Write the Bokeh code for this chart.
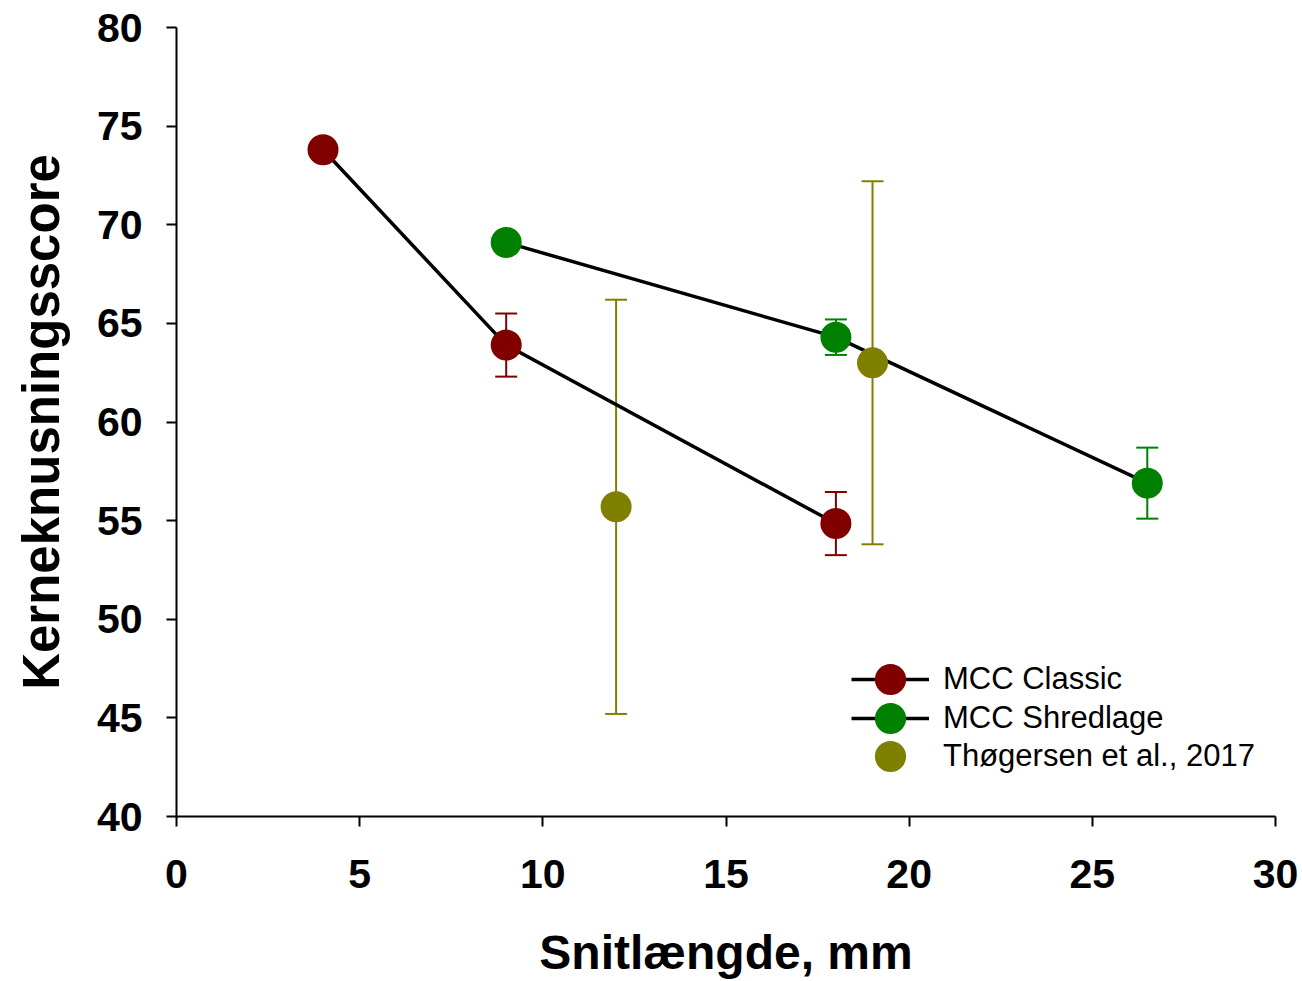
from bokeh.plotting import figure
from bokeh.models import (Range1d, FixedTicker, Whisker, TeeHead, ColumnDataSource,
                          Legend, LegendItem)
from bokeh.embed import file_html
from bokeh.resources import INLINE

# ---- data ----
classic_x = [4, 9, 18]
classic_y = [73.8, 63.9, 54.85]
classic_err_x = [9, 18]
classic_err_y = [63.9, 54.85]
classic_err = [1.6, 1.6]

shred_x = [9, 18, 26.5]
shred_y = [69.1, 64.3, 56.9]
shred_err_x = [18, 26.5]
shred_err_y = [64.3, 56.9]
shred_err = [0.9, 1.8]

thog_x = [12, 19]
thog_y = [55.7, 63.0]
thog_err = [10.5, 9.2]

series_labels = ["MCC Classic", "MCC Shredlage", "Thøgersen et al., 2017"]

x_ticks = [0, 5, 10, 15, 20, 25, 30]
y_ticks = [40, 45, 50, 55, 60, 65, 70, 75, 80]

C_RED = "#800000"
C_GREEN = "#008000"
C_OLIVE = "#808000"
FONT = "Liberation Sans"

W, H = 1300, 981
p = figure(width=W, height=H, output_backend="svg", toolbar_location=None,
           x_range=Range1d(0, 30), y_range=Range1d(40, 80),
           min_border_left=176, min_border_right=W - 1275, min_border_top=27,
           min_border_bottom=H - 817)
p.outline_line_color = None
p.grid.grid_line_color = None
p.background_fill_color = "white"

for ax in (p.xaxis[0], p.yaxis[0]):
    ax.axis_line_width = 2
    ax.axis_line_color = "black"
    ax.major_tick_line_width = 2
    ax.major_tick_out = 10
    ax.major_tick_in = 0
    ax.minor_tick_line_color = None
    ax.major_label_text_font = FONT
    ax.major_label_text_font_style = "bold"
    ax.major_label_text_font_size = "41px"
    ax.major_label_text_color = "black"
    ax.axis_label_text_font = FONT
    ax.axis_label_text_font_style = "bold"
    ax.axis_label_text_color = "black"

p.xaxis.ticker = FixedTicker(ticks=x_ticks)
p.yaxis.ticker = FixedTicker(ticks=y_ticks)
p.xaxis.axis_label = "Snitlængde, mm"
p.yaxis.axis_label = "Kerneknusningsscore"
p.xaxis.axis_label_text_font_size = "48px"
p.yaxis.axis_label_text_font_size = "51px"
p.xaxis.major_label_standoff = 33
p.xaxis.axis_label_standoff = 35
p.yaxis.major_label_standoff = 24
p.yaxis.axis_label_standoff = 24

# lines
l_classic = p.line(classic_x, classic_y, line_color="black", line_width=3.5)
l_shred = p.line(shred_x, shred_y, line_color="black", line_width=3.5)


def add_err(xs, ys, errs, color):
    src = ColumnDataSource(dict(x=xs, up=[y + e for y, e in zip(ys, errs)],
                                lo=[y - e for y, e in zip(ys, errs)]))
    w = Whisker(base="x", upper="up", lower="lo", source=src, dimension="height",
                line_color=color, line_width=2,
                upper_head=TeeHead(size=22, line_color=color, line_width=2),
                lower_head=TeeHead(size=22, line_color=color, line_width=2))
    p.add_layout(w)


add_err(classic_err_x, classic_err_y, classic_err, C_RED)
add_err(shred_err_x, shred_err_y, shred_err, C_GREEN)
add_err(thog_x, thog_y, thog_err, C_OLIVE)

s_classic = p.scatter(classic_x, classic_y, size=31, fill_color=C_RED, line_color=None)
s_shred = p.scatter(shred_x, shred_y, size=31, fill_color=C_GREEN, line_color=None)
s_thog = p.scatter(thog_x, thog_y, size=31, fill_color=C_OLIVE, line_color=None)

# one single-item legend per series, so the large legend markers can sit close together
legend_renderers = [[l_classic, s_classic], [l_shred, s_shred], [s_thog]]
legend_bottoms = [98, 59, 21]
for lab, rends, yb in zip(series_labels, legend_renderers, legend_bottoms):
    lg = Legend(items=[LegendItem(label=lab, renderers=rends)], location=(675, yb))
    lg.border_line_color = None
    lg.background_fill_alpha = 0
    lg.padding = 0
    lg.margin = 0
    lg.spacing = 0
    lg.glyph_width = 78
    lg.glyph_height = 78
    lg.label_height = 78
    lg.label_standoff = 14
    lg.label_text_font = FONT
    lg.label_text_font_size = "31px"
    lg.label_text_color = "black"
    p.add_layout(lg, "center")

open("out.html", "w").write(file_html(p, INLINE))
